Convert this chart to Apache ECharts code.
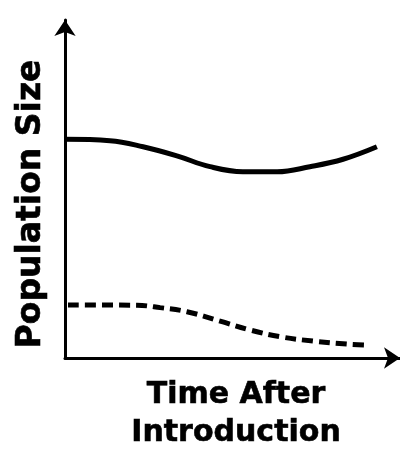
<!DOCTYPE html>
<html>
<head>
<meta charset="utf-8">
<script src="https://cdn.jsdelivr.net/npm/echarts@6/dist/echarts.min.js"></script>
<style>html,body{margin:0;padding:0;background:#fff;}#c{width:400px;height:450px;}</style>
</head>
<body>
<div id="c"></div>
<script>
var timeSolid = [0, 13.4, 23.3, 33.4, 43.3, 53.1, 63.3, 73.1, 83.0, 93.1];
var popSolid = [64.7, 64.3, 62.5, 59.8, 56.6, 55.1, 55.1, 56.6, 58.8, 62.5];
var timeDashed = [0.9, 21.5, 28.4, 36.4, 46.3, 55.2, 64.2, 74.0, 84.2, 90.1];
var popDashed = [15.7, 15.6, 14.9, 13.7, 10.9, 8.3, 6.3, 5.0, 4.1, 3.8];
var xTitleLines = ['Time After', 'Introduction'];
var yTitle = 'Population Size';

function pairs(xs, ys) { return xs.map(function (x, i) { return [x, ys[i]]; }); }

var chart = echarts.init(document.getElementById('c'));
var axisCommon = {
  type: 'value', min: 0, max: 100,
  axisTick: { show: false }, axisLabel: { show: false }, splitLine: { show: false },
  axisLine: { show: true, symbol: ['none', 'arrow'], symbolSize: [16, 16], lineStyle: { color: '#000', width: 3 } }
};
var titleFont = 'bold 30px "DejaVu Sans"';
var titleStyle = { fill: '#000', stroke: '#000', lineWidth: 0.6, textAlign: 'center', textVerticalAlign: 'middle' };
chart.setOption({
  animation: false,
  backgroundColor: '#fff',
  grid: { left: 65, right: 0, top: 20, bottom: 92, outerBoundsMode: 'none', containLabel: false },
  xAxis: Object.assign({}, axisCommon),
  yAxis: Object.assign({}, axisCommon),
  graphic: [
    { type: 'text', x: 236, y: 395, style: Object.assign({ text: xTitleLines[0], font: titleFont }, titleStyle) },
    { type: 'text', x: 236, y: 433, style: Object.assign({ text: xTitleLines[1], font: titleFont }, titleStyle) },
    { type: 'text', x: 31, y: 204, rotation: Math.PI / 2, style: Object.assign({ text: yTitle, font: 'bold 33px "DejaVu Sans"' }, titleStyle) }
  ],
  series: [
    { type: 'line', data: pairs(timeSolid, popSolid), smooth: 0.4, showSymbol: false,
      lineStyle: { color: '#000', width: 5 } },
    { type: 'line', data: pairs(timeDashed, popDashed), smooth: 0.4, showSymbol: false,
      lineStyle: { color: '#000', width: 5, type: [11, 6] } }
  ]
});
</script>
</body>
</html>
